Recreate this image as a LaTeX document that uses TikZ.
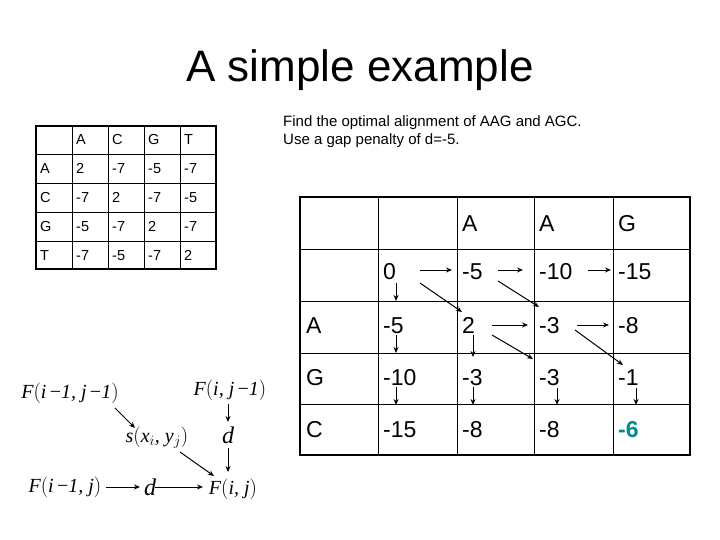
\documentclass[tikz,border=0pt]{standalone}
\usepackage{fontspec}
\setmainfont{Liberation Sans}
\newfontfamily\serf{Liberation Serif}
\usetikzlibrary{arrows.meta}
\definecolor{tealc}{RGB}{0,140,140}
\begin{document}
\begin{tikzpicture}[x=1pt,y=-1pt,
  ar/.style={-{Stealth[length=6pt,width=5pt]},line width=1pt},
  sm/.style={anchor=base west,font=\fontsize{14.5}{16}\selectfont,inner sep=0pt},
  bg/.style={anchor=base west,font=\fontsize{23}{26}\selectfont,inner sep=0pt},
  fm/.style={font=\serf\itshape\fontsize{20}{22}\selectfont,inner sep=1pt}]
\useasboundingbox (0,0) rectangle (720,540);
\node[font=\fontsize{44}{48}\selectfont] (title) at (360,70) {A simple example};
\node[anchor=north west,align=left,font=\fontsize{15}{18}\selectfont,inner sep=0pt] (task) at (283,115)
  {Find the optimal alignment of AAG and AGC.\\Use a gap penalty of d=-5.};
% small table
\draw[line width=1.3pt] (36,126) rectangle (216,269);
\foreach \x in {72,108,144,180} \draw[line width=0.6pt] (\x,126) -- (\x,269);
\foreach \y in {154,183,212,241} \draw[line width=0.6pt] (36,\y) -- (216,\y);
\foreach \t [count=\c] in {A,C,G,T} \node[sm] (h\c) at (40+36*\c,145) {\t};
\foreach \t [count=\c] in {A,C,G,T} \node[sm] (r\c) at (40,144.5+29*\c) {\t};
\foreach \t [count=\c] in {2,-7,-5,-7} \node[sm] (sa\c) at (40+36*\c,173.5) {\t};
\foreach \t [count=\c] in {-7,2,-7,-5} \node[sm] (sb\c) at (40+36*\c,202.5) {\t};
\foreach \t [count=\c] in {-5,-7,2,-7} \node[sm] (sc\c) at (40+36*\c,231.5) {\t};
\foreach \t [count=\c] in {-7,-5,-7,2} \node[sm] (sd\c) at (40+36*\c,260) {\t};
% big grid
\draw[line width=1.5pt] (300,197) rectangle (690,455);
\foreach \x in {378,457,534,613} \draw[line width=0.7pt] (\x,197) -- (\x,455);
\foreach \y in {249,301,353,404} \draw[line width=0.7pt] (300,\y) -- (690,\y);
\node[bg] (hA1) at (462,231) {A};
\node[bg] (hA2) at (539,231) {A};
\node[bg] (hG) at (618,231) {G};
\node[bg] (rA) at (306,333) {A};
\node[bg] (rG) at (306,385) {G};
\node[bg] (rC) at (306,437) {C};
\node[bg] (c00) at (383,279) {0};
\node[bg] (c01) at (462,279) {-5};
\node[bg] (c02) at (539,279) {-10};
\node[bg] (c03) at (618,279) {-15};
\node[bg] (c10) at (383,333) {-5};
\node[bg] (c11) at (462,333) {2};
\node[bg] (c12) at (539,333) {-3};
\node[bg] (c13) at (618,333) {-8};
\node[bg] (c20) at (383,385) {-10};
\node[bg] (c21) at (462,385) {-3};
\node[bg] (c22) at (539,385) {-3};
\node[bg] (c23) at (618,385) {-1};
\node[bg] (c30) at (383,437) {-15};
\node[bg] (c31) at (462,437) {-8};
\node[bg] (c32) at (539,437) {-8};
\node[bg,text=tealc,font=\bfseries\fontsize{23}{26}\selectfont] (c33) at (618,437) {-6};
\draw[ar] (420,270) -- (452,270);
\draw[ar] (498,270) -- (523,270);
\draw[ar] (588,270) -- (611,270);
\draw[ar] (420,283) -- (462,312);
\draw[ar] (498,281) -- (539,307);
\draw[ar] (492,325) -- (528,325);
\draw[ar] (577,325) -- (609,325);
\draw[ar] (492,335) -- (533,359);
\draw[ar] (575,330) -- (623,365);
\draw[ar] (396,283) -- (396,301);
\draw[ar] (396,335) -- (396,353);
\draw[ar] (396,387) -- (396,405);
\draw[ar] (473,335) -- (473,357);
\draw[ar] (473,387) -- (473,405);
\draw[ar] (557,388) -- (557,405);
\draw[ar] (636,388) -- (636,405);
% recurrence diagram
\node[fm] (f11) at (70,393) {F\Big(i\,{\upshape−}1, j\,{\upshape−}1\Big)};
\node[fm] (f01) at (230,390) {F\Big(i, j\,{\upshape−}1\Big)};
\node[fm] (sxy) at (157,438) {s\Big(x$_i$, y$_j$\Big)};
\node[fm,font=\serf\itshape\fontsize{24}{26}\selectfont] (d1) at (228,435) {d};
\node[fm] (f10) at (65,487) {F\Big(i\,{\upshape−}1, j\Big)};
\node[fm,font=\serf\itshape\fontsize{24}{26}\selectfont] (d2) at (150,487) {d};
\node[fm] (f00) at (233,489) {F\Big(i, j\Big)};
\draw[ar] (115,408) -- (135,428);
\draw[ar] (228,404) -- (228,422);
\draw[ar] (228,448) -- (228,472);
\draw[ar] (180,452) -- (214,476);
\draw[ar] (106,487) -- (140,487);
\draw[ar] (155,487) -- (203,487);
\end{tikzpicture}
\end{document}
